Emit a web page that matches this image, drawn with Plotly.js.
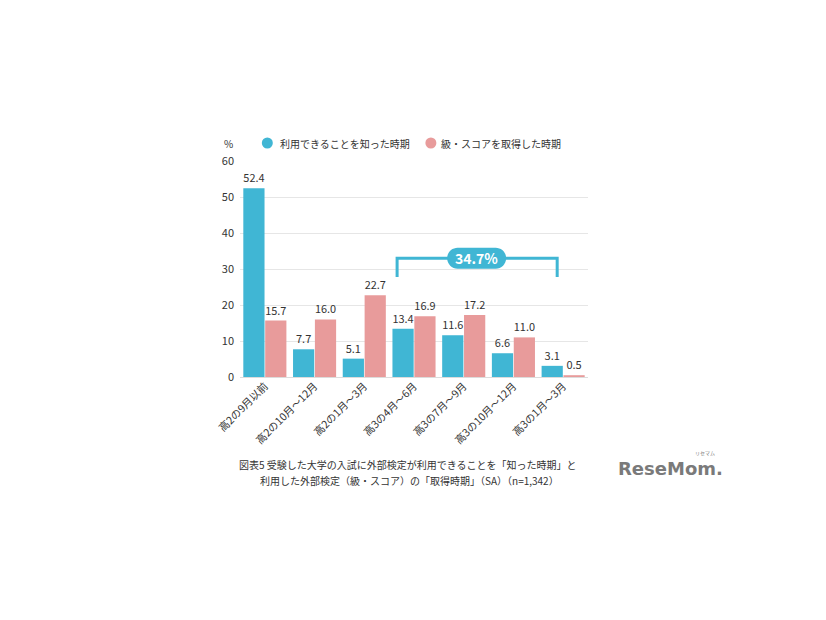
<!DOCTYPE html>
<html><head><meta charset="utf-8">
<script src="https://cdn.plot.ly/plotly-3.0.1.min.js"></script>
<style>body{margin:0;background:#fff}#c{width:826px;height:620px}</style>
</head><body><div id="c"></div>
<script>
const categories = ["高2の9月以前","高2の10月～12月","高2の1月～3月","高3の4月～6月","高3の7月～9月","高3の10月～12月","高3の1月～3月"];
const knewValues = [52.4, 7.7, 5.1, 13.4, 11.6, 6.6, 3.1];
const obtainedValues = [15.7, 16.0, 22.7, 16.9, 17.2, 11.0, 0.5];
const seriesNames = ["利用できることを知った時期", "級・スコアを取得した時期"];
const bracketLabel = "34.7%";
const captionLines = ["図表5 受験した大学の入試に外部検定が利用できることを「知った時期」と", "利用した外部検定（級・スコア）の「取得時期」（SA）（n=1,342）"];

const BLUE = "#40B6D4", PINK = "#E89B9B", TXT = "#333333";
const FONT = "'Noto Sans CJK JP', 'Noto Sans', sans-serif";
const colors = [BLUE, PINK];

const traces = [
  {type:"bar", x:categories, y:knewValues, name:seriesNames[0], marker:{color:BLUE},
   text:knewValues.map(v=>v.toFixed(1)), textposition:"outside", cliponaxis:false,
   textfont:{size:11,color:TXT}, showlegend:false, hoverinfo:"skip"},
  {type:"bar", x:categories, y:obtainedValues, name:seriesNames[1], marker:{color:PINK},
   text:obtainedValues.map(v=>v.toFixed(1)), textposition:"outside", cliponaxis:false,
   textfont:{size:11,color:TXT}, showlegend:false, hoverinfo:"skip"}
];

const r = 10.5, hw = 29.5, k = 0.5523 * r, s = hw - r;
const pill = `M ${-s},${-r} L ${s},${-r} C ${s+k},${-r} ${hw},${-k} ${hw},0 C ${hw},${k} ${s+k},${r} ${s},${r} L ${-s},${r} C ${-s-k},${r} ${-hw},${k} ${-hw},0 C ${-hw},${-k} ${-s-k},${-r} ${-s},${-r} Z`;

const legendCircleX = [0.0785, 0.5485];
const legendTextX = [0.108, 0.573];
const legendY = 1.0833;

const shapes = [
  {type:"path", xref:"x", yref:"y", path:"M 2.66,27.8 L 2.66,33 L 5.88,33 L 5.88,27.8",
   line:{color:BLUE, width:3}, fillcolor:"rgba(0,0,0,0)"},
  {type:"path", xref:"x", yref:"y", xsizemode:"pixel", ysizemode:"pixel", xanchor:4.26, yanchor:33,
   path:pill, fillcolor:BLUE, line:{width:0}, layer:"above"}
];
const annotations = [
  {xref:"x", yref:"y", x:4.26, y:33, text:"<b>"+bracketLabel+"</b>", showarrow:false,
   font:{size:14,color:"#fff",family:FONT}},
  {xref:"paper", yref:"paper", x:-0.034, y:1.079, xanchor:"center", yanchor:"middle", text:"%", showarrow:false, font:{size:10,color:TXT}},
  {xref:"paper", yref:"paper", x:0.483, y:-0.405, xanchor:"center", yanchor:"middle", text:captionLines[0], showarrow:false, font:{size:10,color:TXT}},
  {xref:"paper", yref:"paper", x:0.486, y:-0.479, xanchor:"center", yanchor:"middle", text:captionLines[1], showarrow:false, font:{size:10,color:TXT}},
  {xref:"paper", yref:"paper", x:1.238, y:-0.422, xanchor:"center", yanchor:"middle", text:"<b>ReseMom.</b>", showarrow:false, font:{size:18,color:"#7a7a7a",family:"'DejaVu Sans', sans-serif"}},
  {xref:"paper", yref:"paper", x:1.336, y:-0.352, xanchor:"center", yanchor:"middle", text:"リセマム", showarrow:false, font:{size:5,color:"#7a7a7a"}}
];
seriesNames.forEach((n, i) => {
  shapes.push({type:"circle", xref:"paper", yref:"paper", xsizemode:"pixel", ysizemode:"pixel",
    xanchor:legendCircleX[i], yanchor:legendY, x0:-5.5, x1:5.5, y0:-5.5, y1:5.5,
    fillcolor:colors[i], line:{width:0}});
  annotations.push({xref:"paper", yref:"paper", x:legendTextX[i], y:legendY, xanchor:"left", yanchor:"middle",
    text:n, showarrow:false, font:{size:10,color:TXT}});
});

const layout = {
  width:826, height:620,
  margin:{l:240, r:238, t:161, b:243, pad:0},
  paper_bgcolor:"#fff", plot_bgcolor:"#fff",
  font:{family:FONT, color:TXT, size:11},
  barmode:"group", bargap:0.12, bargroupgap:0.03,
  showlegend:false,
  xaxis:{type:"category", tickangle:-45, tickfont:{size:10.5,color:TXT}, showline:false, ticks:"", showgrid:false, zeroline:false},
  yaxis:{range:[0,60], dtick:10, showgrid:true, gridcolor:"#e6e6e6", gridwidth:1, zeroline:true, zerolinecolor:"#dcdcdc",
    tickfont:{size:11,color:TXT}, ticks:"", ticklen:0, showline:false, fixedrange:true, ticklabelstandoff:5},
  shapes:shapes,
  annotations:annotations
};
Plotly.newPlot("c", traces, layout, {displayModeBar:false, staticPlot:true});
</script></body></html>
